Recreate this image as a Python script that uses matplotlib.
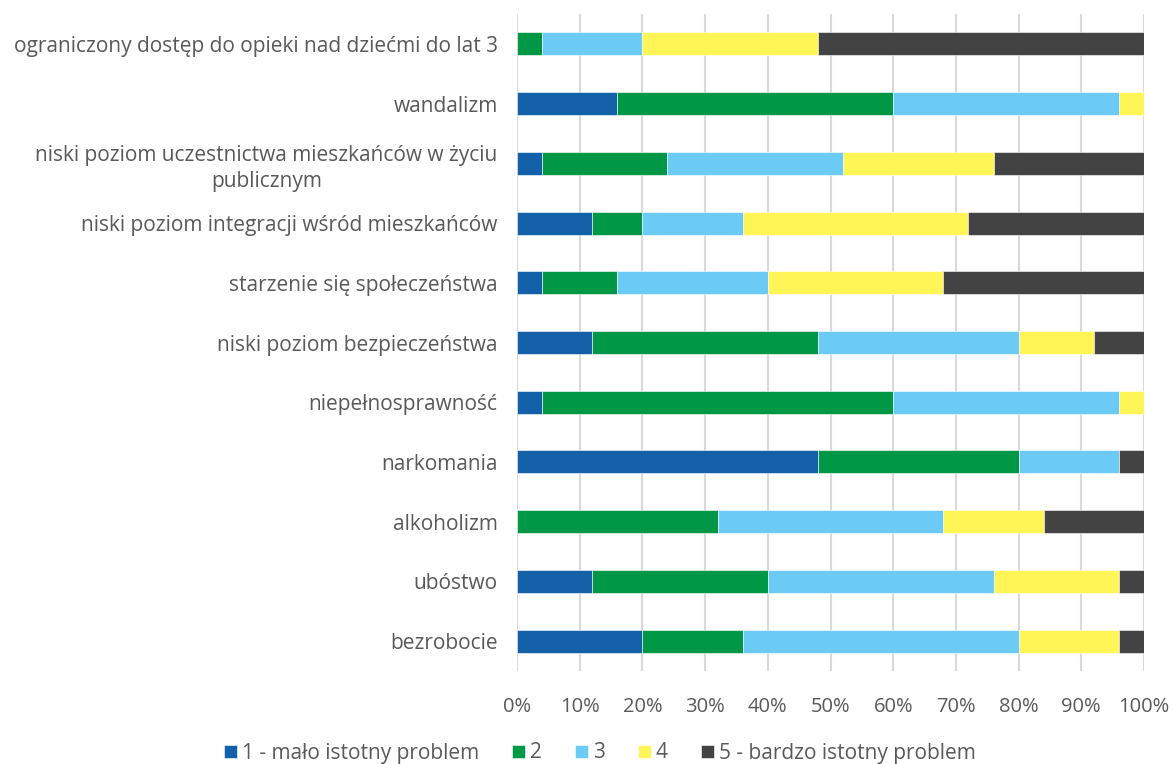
import matplotlib
matplotlib.use("Agg")
import matplotlib.pyplot as plt
import numpy as np

categories = [
    "ograniczony dostęp do opieki nad dziećmi do lat 3",
    "wandalizm",
    "niski poziom uczestnictwa mieszkańców w życiu\npublicznym",
    "niski poziom integracji wśród mieszkańców",
    "starzenie się społeczeństwa",
    "niski poziom bezpieczeństwa",
    "niepełnosprawność",
    "narkomania",
    "alkoholizm",
    "ubóstwo",
    "bezrobocie",
]
series_names = ["1 - mało istotny problem", "2", "3", "4", "5 - bardzo istotny problem"]
s1 = [0, 16, 4, 12, 4, 12, 4, 48, 0, 12, 20]
s2 = [4, 44, 20, 8, 12, 36, 56, 32, 32, 28, 16]
s3 = [16, 36, 28, 16, 24, 32, 36, 16, 36, 36, 44]
s4 = [28, 4, 24, 36, 28, 12, 4, 0, 16, 20, 16]
s5 = [52, 0, 24, 28, 32, 8, 0, 4, 16, 4, 4]
xticks = [0, 10, 20, 30, 40, 50, 60, 70, 80, 90, 100]

colors = ["#1360A8", "#009846", "#6BCBF5", "#FFF556", "#434343"]
text_color = "#595959"

plt.rcParams["font.family"] = ["Open Sans", "DejaVu Sans"]

fig = plt.figure(figsize=(11.74, 7.64), dpi=100)
ax = fig.add_axes([517/1174, 1 - 671/764, (1144-517)/1174, (671-14)/764])

y = np.arange(len(categories))
left = np.zeros(len(categories))
for name, vals, c in zip(series_names, [s1, s2, s3, s4, s5], colors):
    vals = np.array(vals, dtype=float)
    ax.barh(y, vals, left=left, height=0.385, color=c, label=name,
            edgecolor="white", linewidth=0.4, zorder=3)
    left += vals

ax.set_ylim(len(categories) - 0.5, -0.5)
ax.set_xlim(0, 100)
ax.set_yticks(y)
ax.set_yticklabels(categories, fontsize=15, color=text_color, ha="right",
                   multialignment="center", linespacing=1.3)
ax.set_xticks(xticks)
ax.set_xticklabels([f"{t}%" for t in xticks], fontsize=14.5, color=text_color)
ax.tick_params(axis="y", length=0, pad=14)
ax.tick_params(axis="x", length=0, pad=19)
ax.grid(axis="x", color="#D9D9D9", linewidth=1.5, zorder=0)
for s in ax.spines.values():
    s.set_visible(False)

leg = fig.legend(loc="center", bbox_to_anchor=(600/1174, 1 - 753/764), ncol=5,
                 frameon=False, fontsize=15, handlelength=0.6, handleheight=0.6,
                 handletextpad=0.25, columnspacing=1.6)
for t in leg.get_texts():
    t.set_color(text_color)

fig.savefig("out.png", dpi=100)
